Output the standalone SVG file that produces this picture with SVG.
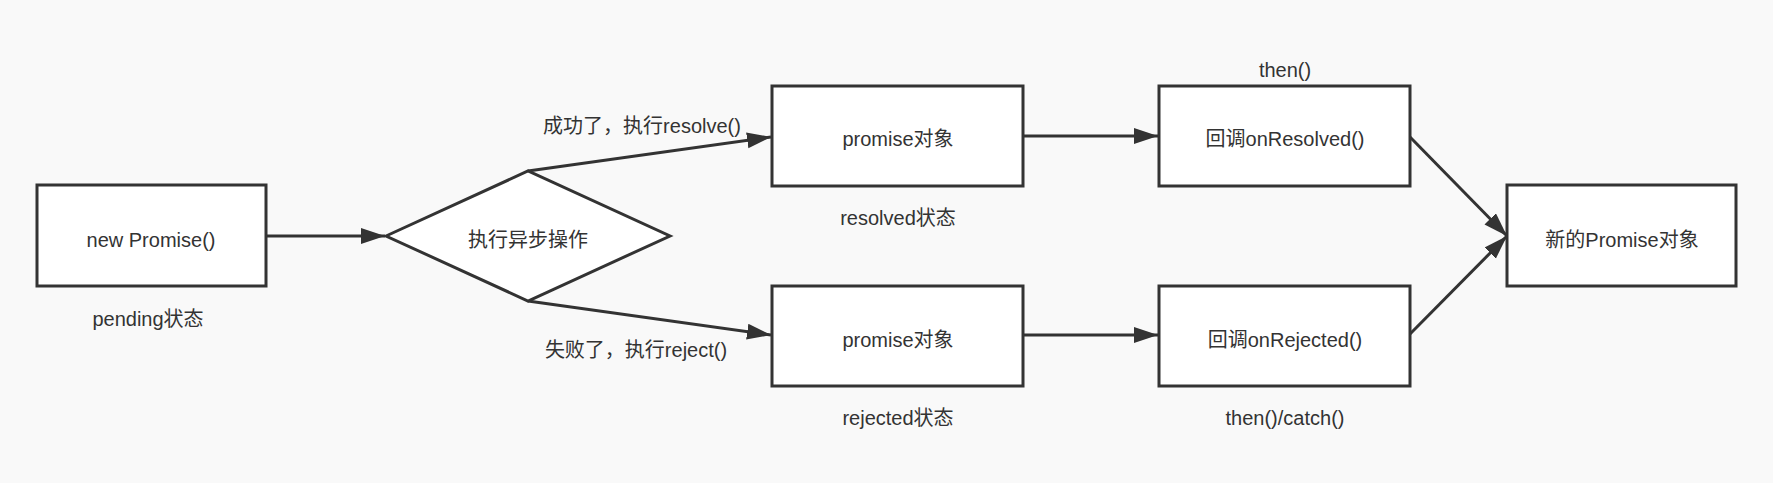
<svg xmlns="http://www.w3.org/2000/svg" width="1773" height="483" viewBox="0 0 1773 483">
<defs>
<style>
.box{fill:#ffffff;stroke:#333333;stroke-width:3}
.t{font-family:"Liberation Sans","Noto Sans CJK SC",sans-serif;font-size:20px;fill:#333333;text-anchor:middle}
.e{fill:none;stroke:#333333;stroke-width:3}
</style>
<marker id="arr" markerUnits="userSpaceOnUse" markerWidth="26" markerHeight="18" refX="24" refY="8" orient="auto">
<path d="M0,0 L24,8 L0,16 Z" fill="#333333"/>
</marker>
</defs>
<rect width="1773" height="483" fill="#f9f9f9"/>
<g id="connectors">
<line class="e" x1="266" y1="236" x2="385" y2="236" marker-end="url(#arr)"/>
<line class="e" x1="528" y1="171" x2="771" y2="137" marker-end="url(#arr)"/>
<line class="e" x1="528" y1="301" x2="771" y2="335" marker-end="url(#arr)"/>
<line class="e" x1="1023" y1="136" x2="1158" y2="136" marker-end="url(#arr)"/>
<line class="e" x1="1023" y1="335" x2="1158" y2="335" marker-end="url(#arr)"/>
<line class="e" x1="1410" y1="137" x2="1507" y2="236" marker-end="url(#arr)"/>
<line class="e" x1="1410" y1="334" x2="1507" y2="236" marker-end="url(#arr)"/>
<text class="t" x="642" y="133">成功了，执行resolve()</text>
<text class="t" x="636" y="357">失败了，执行reject()</text>
</g>
<g id="node-new-promise">
<rect class="box" x="37" y="185" width="229" height="101"/>
<text class="t" x="151" y="247">new Promise()</text>
<text class="t" x="148" y="326">pending状态</text>
</g>
<g id="node-async">
<polygon class="box" points="386,236 528,171 670,236 528,301"/>
<text class="t" x="528" y="247">执行异步操作</text>
</g>
<g id="node-promise-resolved">
<rect class="box" x="772" y="86" width="251" height="100"/>
<text class="t" x="898" y="146">promise对象</text>
<text class="t" x="898" y="225">resolved状态</text>
</g>
<g id="node-promise-rejected">
<rect class="box" x="772" y="286" width="251" height="100"/>
<text class="t" x="898" y="347">promise对象</text>
<text class="t" x="898" y="425">rejected状态</text>
</g>
<g id="node-onresolved">
<rect class="box" x="1159" y="86" width="251" height="100"/>
<text class="t" x="1285" y="146">回调onResolved()</text>
<text class="t" x="1285" y="77">then()</text>
</g>
<g id="node-onrejected">
<rect class="box" x="1159" y="286" width="251" height="100"/>
<text class="t" x="1285" y="347">回调onRejected()</text>
<text class="t" x="1285" y="425">then()/catch()</text>
</g>
<g id="node-new-promise-obj">
<rect class="box" x="1507" y="185" width="229" height="101"/>
<text class="t" x="1622" y="247">新的Promise对象</text>
</g>
</svg>
